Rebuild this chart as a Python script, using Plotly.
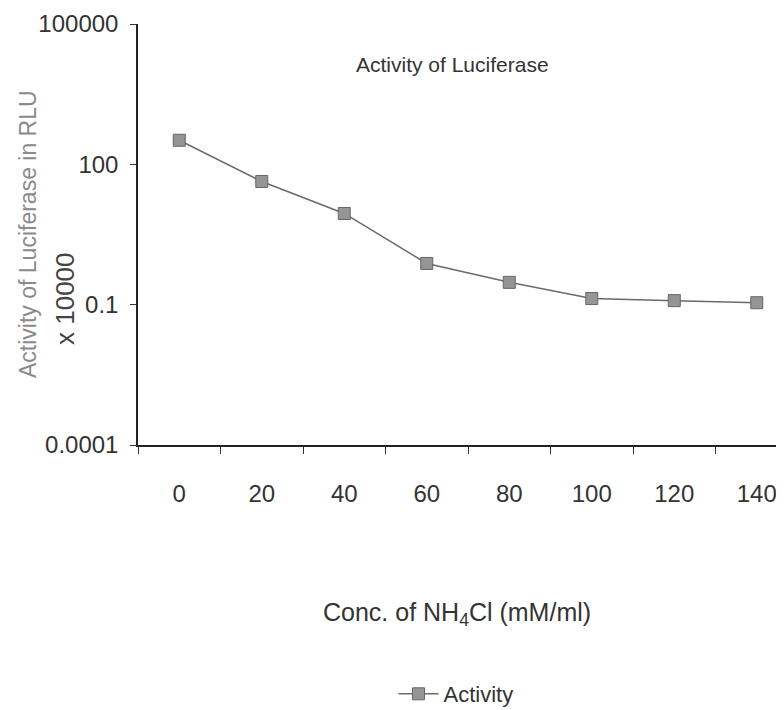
import plotly.graph_objects as go

conc = ["0", "20", "40", "60", "80", "100", "120", "140"]
activity = [327, 43, 8.9, 0.76, 0.30, 0.135, 0.122, 0.11]
ytick_vals = [0.0001, 0.1, 100, 100000]
ytick_text = ["0.0001", "0.1", "100", "100000"]

FONT = "Liberation Sans Narrow, Arial Narrow, Liberation Sans, Arial, sans-serif"
TXT = "#333333"

# plot area in figure pixels (page has an 8px body margin)
L, R, T, B = 130, 776, 16, 437
PW, PH = R - L, B - T


def px(xs, ys):
    """screen pixel -> paper coords"""
    return (xs - 8 - L) / PW, 1 - (ys - 8 - T) / PH


fig = go.Figure()
fig.add_trace(go.Scatter(
    x=conc, y=activity, mode="lines+markers", name="Activity",
    line=dict(color="#6a6a6a", width=1.5),
    marker=dict(symbol="square", size=12, color="#959595",
                line=dict(color="#666666", width=1)),
))

tx, ty = px(452, 65)
xx, xy = px(457, 614)
yx, yy = px(28, 234)
mx, my = px(65, 299)
lx, ly = px(456, 694)

fig.update_layout(
    width=784, height=710,
    margin=dict(l=L, r=784 - R, t=T, b=710 - B, autoexpand=False),
    paper_bgcolor="white", plot_bgcolor="white",
    font=dict(family=FONT, color=TXT, size=18),
    showlegend=True,
    legend=dict(orientation="h", x=lx, xanchor="center", y=ly, yanchor="middle",
                font=dict(size=22, color=TXT), itemwidth=40),
    xaxis=dict(
        type="category", range=[-0.5, 7.33], automargin=False,
        showline=True, linecolor="#222222", linewidth=1.5,
        ticks="outside", ticklen=7, tickcolor="#333333", tickson="boundaries",
        showgrid=False, zeroline=False,
        tickfont=dict(size=24, color=TXT), ticklabelstandoff=26,
    ),
    yaxis=dict(
        type="log", range=[-4, 5], automargin=False,
        tickvals=ytick_vals, ticktext=ytick_text,
        showline=True, linecolor="#222222", linewidth=1.5,
        ticks="outside", ticklen=6, tickcolor="#333333",
        showgrid=False, zeroline=False,
        tickfont=dict(size=24, color=TXT), ticklabelstandoff=7,
    ),
    annotations=[
        dict(text="Activity of Luciferase", xref="paper", yref="paper",
             x=tx, y=ty, showarrow=False,
             font=dict(size=21, color=TXT), xanchor="center", yanchor="middle"),
        dict(text="Conc. of NH<sub>4</sub>Cl (mM/ml)", xref="paper", yref="paper",
             x=xx, y=xy, showarrow=False,
             font=dict(size=25, color=TXT), xanchor="center", yanchor="middle"),
        dict(text="Activity of Luciferase in RLU", xref="paper", yref="paper",
             x=yx, y=yy, showarrow=False, textangle=-90,
             font=dict(size=23, color="#8a8a8a"), xanchor="center", yanchor="middle"),
        dict(text="x 10000", xref="paper", yref="paper",
             x=mx, y=my, showarrow=False, textangle=-90,
             font=dict(size=26, color="#444444"), xanchor="center", yanchor="middle"),
    ],
)

fig.write_html("out.html")
